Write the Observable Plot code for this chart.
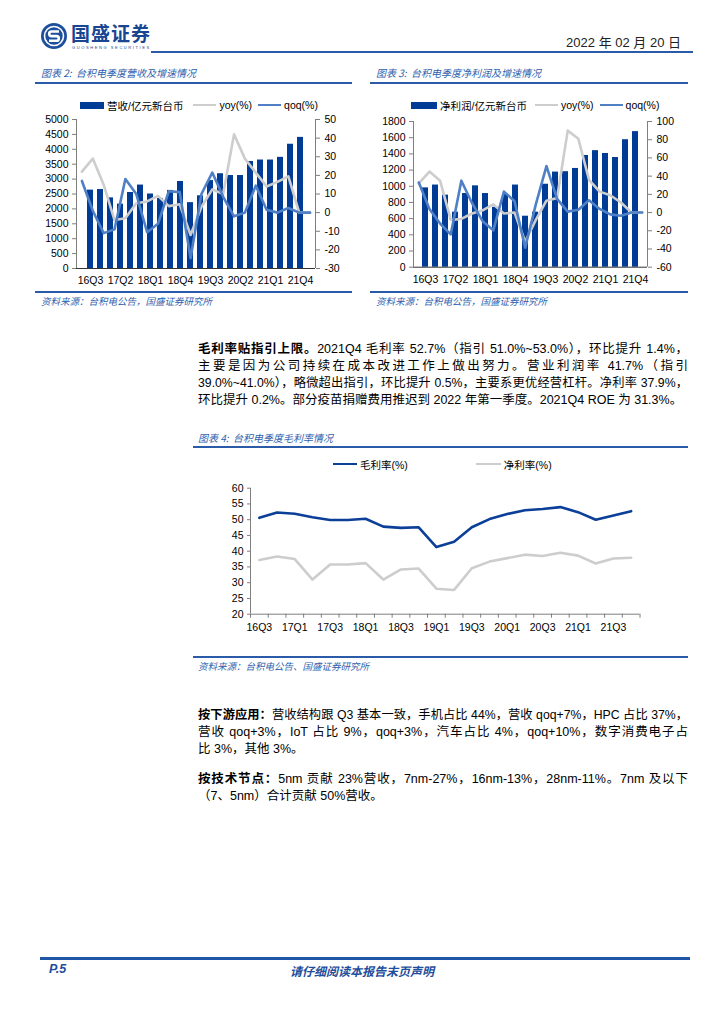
<!DOCTYPE html>
<html><head><meta charset="utf-8">
<script src="https://cdn.jsdelivr.net/npm/d3@7"></script>
<script src="https://cdn.jsdelivr.net/npm/@observablehq/plot@0.6"></script>
<style>
body{margin:0;background:#fff;}
#page{position:relative;width:724px;height:1024px;overflow:hidden;font-family:"Liberation Sans","Noto Sans CJK SC",sans-serif;color:#000;}
.a{position:absolute;white-space:nowrap;}
.hl{position:absolute;background:#2a5aa8;}
.ttl{font-family:"Noto Sans CJK SC";font-style:italic;font-size:10px;color:#2f5fae;}
.src{font-family:"Noto Sans CJK SC";font-style:italic;font-size:9.5px;color:#2f5fae;}
.lg{font-family:"Liberation Sans","Noto Sans CJK SC";font-size:10.5px;color:#000;display:flex;align-items:center;}
.p{position:absolute;left:198px;width:490px;font-size:12.5px;line-height:17px;}
.p div{text-align:justify;text-align-last:justify;white-space:normal;height:17px;overflow:visible;}
.p div.last{text-align:left;text-align-last:left;}
.chart{position:absolute;}
.chart svg{position:absolute;left:0;top:0;}
</style></head>
<body><div id="page"></div>
<script>
// ---------- data ----------
const quarters = ["16Q3","16Q4","17Q1","17Q2","17Q3","17Q4","18Q1","18Q2","18Q3","18Q4","19Q1","19Q2","19Q3","19Q4","20Q1","20Q2","20Q3","20Q4","21Q1","21Q2","21Q3","21Q4"];
const revenue = [2630,2650,2370,2160,2550,2800,2500,2350,2620,2920,2210,2440,2950,3180,3120,3120,3590,3640,3640,3730,4170,4400];
const revenueYoy = [22,29,15,-4,-3,5,6,9,3.5,4.5,-12,3,12.5,10,42,29,21.5,14,16.5,19.5,0,0];
const revenueQoq = [17,1,-11,-9,18,10,-10.5,-6,11.5,11,-24.5,10,21.5,8.5,-2,0,14.5,1.5,0,2.5,0,0];
const netIncome = [980,1015,890,680,910,1005,910,740,900,1015,630,680,1025,1175,1180,1220,1380,1440,1405,1355,1575,1675];
const netIncomeYoy = [32,45,35,-8,-7,-1,2.5,9,-1,0,-32,-8,13,16,90,81,36,23,19,11,0,0];
const netIncomeQoq = [33,4,-12,-24,35,10.5,-9.5,-19.5,23,12.5,-38.5,9,51,15,1,3,13.5,4,-2,-3.5,0,0];
const grossMargin = [50.6,52.3,51.9,50.8,49.9,49.9,50.3,47.8,47.4,47.6,41.3,43.0,47.6,50.2,51.8,53.0,53.4,54.0,52.4,50.0,51.3,52.7];
const netMargin = [37.2,38.3,37.5,31.0,35.8,35.8,36.2,31.0,34.2,34.5,28.1,27.7,34.6,36.7,37.8,38.9,38.5,39.5,38.6,36.1,37.7,37.9];
const revTicks = d3.range(0,5001,500);
const revPctTicks = d3.range(-30,51,10);
const niTicks = d3.range(0,1801,200);
const niPctTicks = d3.range(-60,101,20);
const marginTicks = d3.range(20,61,5);

// ---------- colours ----------
const BAR = "#003c96", QOQ = "#4f80c6", GRAY = "#cdcdcd", GM = "#0b3f98", AXIS = "#7f7f7f";

const page = document.getElementById("page");
function el(tag, cls, css, html){const e=document.createElement(tag); if(cls) e.className=cls; if(css) e.style.cssText=css; if(html!=null) e.innerHTML=html; page.appendChild(e); return e;}

// ---------- header ----------
el("div","a","left:40px;top:22px;width:28px;height:28px;",
 `<svg width="28" height="28" viewBox="0 0 28 28"><circle cx="14" cy="14" r="13" fill="#1d4f9e"/><circle cx="14" cy="14" r="9.5" fill="none" stroke="#fff" stroke-width="1.6"/><path d="M19 9.5 H11.5 a2.3 2.3 0 0 0 0 4.6 H16.5 a2.3 2.3 0 0 1 0 4.6 H9" fill="none" stroke="#fff" stroke-width="2.6"/></svg>`);
el("div","a","left:71px;top:22px;font-family:'Noto Sans CJK SC';font-weight:700;font-size:19px;line-height:22px;color:#1a4590;letter-spacing:1px;","国盛证券");
el("div","a","left:72px;top:45px;font-family:'Liberation Sans';font-size:4px;line-height:5px;color:#1a4590;letter-spacing:1.6px;","GUOSHENG SECURITIES");
el("div","a","right:43px;top:35px;font-family:'Liberation Sans','Noto Sans CJK SC';font-size:13px;line-height:16px;color:#222;","2022 年 02 月 20 日");
el("div","hl","left:151px;top:51px;width:542px;height:2px;");

// ---------- chart titles / sources ----------
function frameBlock(left, lineLeft, lineWidth, titleTop, lineTop, srcLineTop, title, src){
  el("div","a ttl",`left:${left}px;top:${titleTop}px;`,title);
  el("div","hl",`left:${lineLeft}px;top:${lineTop}px;width:${lineWidth}px;height:1.5px;`);
  el("div","hl",`left:${lineLeft}px;top:${srcLineTop}px;width:${lineWidth}px;height:1.5px;`);
  el("div","a src",`left:${left}px;top:${srcLineTop+3}px;`,src);
}
frameBlock(41,35,317,65,82,291,"图表 2:&nbsp; 台积电季度营收及增速情况","资料来源：台积电公告，国盛证券研究所");
frameBlock(376,370,318,65,82,291,"图表 3:&nbsp; 台积电季度净利润及增速情况","资料来源：台积电公告，国盛证券研究所");
frameBlock(198,193,495,430,446,656,"图表 4:&nbsp; 台积电季度毛利率情况","资料来源：台积电公告、国盛证券研究所");

// ---------- legends ----------
function legend(left, top, items){
  const d = el("div","a lg",`left:${left}px;top:${top}px;height:14px;`);
  items.forEach(it=>{
    const sw = document.createElement("span");
    sw.style.cssText = `display:inline-block;width:${it.w}px;height:${it.h}px;background:${it.c};margin-right:3px;margin-left:${it.ml||0}px;`;
    const t = document.createElement("span"); t.textContent = it.t;
    d.appendChild(sw); d.appendChild(t);
  });
}
legend(80,98,[{w:24,h:7,c:BAR,t:"营收/亿元新台币"},{w:23,h:2.5,c:GRAY,t:"yoy(%)",ml:10},{w:23,h:2.5,c:QOQ,t:"qoq(%)",ml:6}]);
legend(411,98,[{w:26,h:7,c:BAR,t:"净利润/亿元新台币"},{w:23,h:2.5,c:GRAY,t:"yoy(%)",ml:8},{w:23,h:2.5,c:QOQ,t:"qoq(%)",ml:6}]);
legend(333,457,[{w:24,h:2.5,c:GM,t:"毛利率(%)"},{w:25,h:2.5,c:GRAY,t:"净利率(%)",ml:68}]);

// ---------- dual-axis bar/line charts ----------
const baseStyle = {fontFamily:"'Liberation Sans', Arial, sans-serif", fontSize:"10.5px", color:"#000", background:"transparent", overflow:"visible"};
function dualChart(left, top, w, h, ml, mr, mt, mb, bars, leftTicks, yoy, qoq, rightTicks){
  const box = el("div","chart",`left:${left}px;top:${top}px;width:${w}px;height:${h}px;`);
  const n = quarters.length;
  const barPlot = Plot.plot({
    width:w, height:h, marginLeft:ml, marginRight:mr, marginTop:mt, marginBottom:mb, style:baseStyle,
    x:{type:"band", domain:quarters, paddingInner:0.36, paddingOuter:0.18, align:0.5},
    y:{domain:[leftTicks[0], leftTicks[leftTicks.length-1]]},
    marks:[
      Plot.barY(quarters,{x:d=>d, y:(d,i)=>bars[i], fill:BAR}),
      Plot.axisY({ticks:leftTicks, tickSize:4, tickPadding:4, tickFormat:d=>String(d), stroke:AXIS}),
      Plot.axisX({ticks:quarters.filter((d,i)=>i%3===0), tickSize:0, tickPadding:8})
    ]
  });
  const linePlot = Plot.plot({
    width:w, height:h, marginLeft:ml, marginRight:mr, marginTop:mt, marginBottom:mb, style:baseStyle,
    x:{domain:[0,n], axis:null},
    y:{domain:[rightTicks[0], rightTicks[rightTicks.length-1]], axis:null},
    marks:[
      Plot.ruleX([0,n],{stroke:AXIS, strokeWidth:1}),
      Plot.ruleY([rightTicks[0]],{stroke:"#333", strokeWidth:1}),
      Plot.lineY(yoy,{x:(d,i)=>i+0.5, y:d=>d, stroke:GRAY, strokeWidth:2.6}),
      Plot.lineY(qoq,{x:(d,i)=>i+0.5, y:d=>d, stroke:QOQ, strokeWidth:2.6}),
      Plot.axisY({anchor:"right", ticks:rightTicks, tickSize:4, tickPadding:5, tickFormat:d=>String(d), stroke:AXIS})
    ]
  });
  box.appendChild(barPlot); box.appendChild(linePlot);
}
dualChart(30,112,330,185,46,45,7,29, revenue, revTicks, revenueYoy, revenueQoq, revPctTicks);
dualChart(365,112,330,185,48,48,9,30.3, netIncome, niTicks, netIncomeYoy, netIncomeQoq, niPctTicks);

// ---------- margin chart ----------
(function(){
  const n = quarters.length;
  const box = el("div","chart","left:190px;top:480px;width:460px;height:160px;");
  const p = Plot.plot({
    width:460, height:160, marginLeft:60, marginRight:10.5, marginTop:7.7, marginBottom:26.3, style:baseStyle,
    x:{domain:[0,n]},
    y:{domain:[20,60]},
    marks:[
      Plot.ruleX([0],{stroke:AXIS}),
      Plot.ruleY([20],{stroke:AXIS}),
      Plot.axisX({ticks:d3.range(0,n+1), tickSize:4, tickFormat:()=>"", stroke:AXIS}),
      Plot.axisX({ticks:d3.range(0,n,2).map(i=>i+0.5), tickSize:0, tickPadding:9, tickFormat:d=>quarters[Math.floor(d)]}),
      Plot.axisY({ticks:marginTicks, tickSize:3, tickPadding:4, tickFormat:d=>String(d), stroke:AXIS}),
      Plot.lineY(netMargin,{x:(d,i)=>i+0.5, y:d=>d, stroke:GRAY, strokeWidth:2.6}),
      Plot.lineY(grossMargin,{x:(d,i)=>i+0.5, y:d=>d, stroke:GM, strokeWidth:2.6})
    ]
  });
  box.appendChild(p);
})();

// ---------- body text ----------
function para(top, lines){
  const d = el("div","p",`top:${top}px;`);
  lines.forEach((l,i)=>{
    const r=document.createElement("div"); if(i===lines.length-1) r.className="last"; r.innerHTML=l; d.appendChild(r);
    let fs = 12.5;
    r.style.height="auto";
    while(r.getBoundingClientRect().height > 20 && fs > 9){ fs -= 0.25; r.style.fontSize = fs+"px"; }
    r.style.height="17px";
  });
}
para(341,[
 "<b>毛利率贴指引上限。</b>2021Q4 毛利率 52.7%（指引 51.0%~53.0%），环比提升 1.4%，",
 "主要是因为公司持续在成本改进工作上做出努力。营业利润率 41.7%（指引",
 "39.0%~41.0%），略微超出指引，环比提升 0.5%，主要系更优经营杠杆。净利率 37.9%，",
 "环比提升 0.2%。部分疫苗捐赠费用推迟到 2022 年第一季度。2021Q4 ROE 为 31.3%。"
]);
para(707,[
 "<b>按下游应用：</b>营收结构跟 Q3 基本一致，手机占比 44%，营收 qoq+7%，HPC 占比 37%，",
 "营收 qoq+3%，IoT 占比 9%，qoq+3%，汽车占比 4%，qoq+10%，数字消费电子占",
 "比 3%，其他 3%。"
]);
para(771,[
 "<b>按技术节点：</b>5nm 贡献 23%营收，7nm-27%，16nm-13%，28nm-11%。7nm 及以下",
 "（7、5nm）合计贡献 50%营收。"
]);

// ---------- footer ----------
el("div","hl","left:40px;top:957px;width:650px;height:2.5px;background:#1f56a8;");
el("div","a","left:49px;top:962px;font-family:'Liberation Sans';font-weight:700;font-style:italic;font-size:12.5px;color:#1f4e9c;","P.5");
el("div","a","left:290px;top:962px;font-family:'Noto Sans CJK SC';font-weight:700;font-style:italic;font-size:12px;color:#1f4e9c;","请仔细阅读本报告末页声明");
</script>
</body></html>
